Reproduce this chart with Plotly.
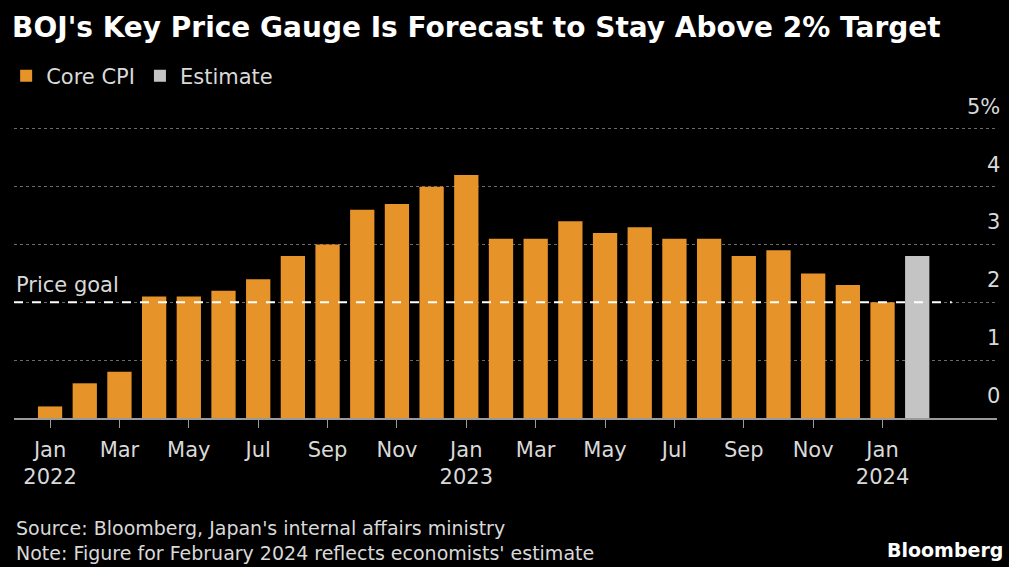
import plotly.graph_objects as go

months = ["Jan 2022","Feb 2022","Mar 2022","Apr 2022","May 2022","Jun 2022","Jul 2022","Aug 2022",
          "Sep 2022","Oct 2022","Nov 2022","Dec 2022","Jan 2023","Feb 2023","Mar 2023","Apr 2023",
          "May 2023","Jun 2023","Jul 2023","Aug 2023","Sep 2023","Oct 2023","Nov 2023","Dec 2023","Jan 2024"]
core_cpi = [0.2,0.6,0.8,2.1,2.1,2.2,2.4,2.8,3.0,3.6,3.7,4.0,4.2,3.1,3.1,3.4,3.2,3.3,3.1,3.1,2.8,2.9,2.5,2.3,2.0]
estimate_month = ["Feb 2024"]
estimate = [2.8]
price_goal = 2.0

x_tick_idx = [0,2,4,6,8,10,12,14,16,18,20,22,24]
x_tick_text = ["Jan<br>2022","Mar","May","Jul","Sep","Nov","Jan<br>2023","Mar","May","Jul","Sep","Nov","Jan<br>2024"]
y_tick_vals = [0,1,2,3,4,5]
y_tick_text = ["0","1","2","3","4","5%"]

ORANGE = "#E6932A"
GREY = "#C4C4C4"
TXT = "#D9D9D9"
FONT = "DejaVu Sans"

x_core = list(range(len(core_cpi)))
x_est = [len(core_cpi) + i for i in range(len(estimate))]

fig = go.Figure()
fig.add_trace(go.Bar(x=x_core, y=core_cpi, name="Core CPI", marker=dict(color=ORANGE, line=dict(width=0)),
                     width=0.7, hovertext=months))
fig.add_trace(go.Bar(x=x_est, y=estimate, name="Estimate", marker=dict(color=GREY, line=dict(width=0)),
                     width=0.7, hovertext=estimate_month))

fig.add_shape(type="line", xref="paper", yref="y", x0=0, x1=0.954, y0=price_goal, y1=price_goal,
              line=dict(color="white", width=2, dash="dash"), layer="above")
fig.add_annotation(xref="paper", yref="y", x=0, y=price_goal, xanchor="left", yanchor="bottom",
                   text="Price goal", showarrow=False, font=dict(family=FONT, size=21, color=TXT), yshift=3)

# y-axis labels placed above their gridlines (Bloomberg style)
for v, t in zip(y_tick_vals, y_tick_text):
    fig.add_annotation(xref="paper", yref="y", x=1.005, y=v, xanchor="right", yanchor="bottom",
                       text=t, showarrow=False, font=dict(family=FONT, size=21, color=TXT), yshift=8)

fig.update_layout(
    width=1009, height=567,
    paper_bgcolor="black", plot_bgcolor="black",
    margin=dict(l=14, r=12, t=97, b=149, autoexpand=False),
    bargap=0.3,
    showlegend=True,
    legend=dict(orientation="h", x=-0.008, xanchor="left", y=0.866, yref="container", yanchor="middle",
                font=dict(family=FONT, size=21, color=TXT), itemwidth=30, tracegroupgap=0,
                bgcolor="rgba(0,0,0,0)"),
    title=dict(text="<b>BOJ's Key Price Gauge Is Forecast to Stay Above 2% Target</b>",
               x=0.012, xanchor="left", xref="container", y=0.952, yanchor="middle", yref="container",
               font=dict(family=FONT, size=28, color="white")),
    font=dict(family=FONT, color=TXT),
)

fig.update_xaxes(range=[-1.04, 27.3], tickmode="array", tickvals=x_tick_idx, ticktext=x_tick_text,
                 showgrid=False, zeroline=False, showline=True, linecolor="#9A9A9A", linewidth=1.5,
                 ticks="outside", ticklen=8, tickcolor="#9A9A9A", tickwidth=1, ticklabelstandoff=4,
                 tickfont=dict(family=FONT, size=21, color=TXT), fixedrange=True, automargin=False)
fig.update_yaxes(range=[0, 5.55], side="right", tickmode="array", tickvals=y_tick_vals,
                 showticklabels=False, showgrid=True, gridcolor="#6A6A6A",
                 griddash="dot", gridwidth=1, automargin=False,
                 zeroline=False, ticks="", fixedrange=True)

fig.add_annotation(xref="paper", yref="paper", x=0, y=-0.303, xanchor="left", yanchor="top", align="left",
                   text="Source: Bloomberg, Japan's internal affairs ministry<br>Note: Figure for February 2024 reflects economists' estimate",
                   showarrow=False, font=dict(family=FONT, size=19, color=TXT))
fig.add_annotation(xref="paper", yref="paper", x=1.008, y=-0.372, xanchor="right", yanchor="top",
                   text="<b>Bloomberg</b>", showarrow=False, font=dict(family=FONT, size=19, color="white"))

fig.write_html("out.html", config={"displayModeBar": False},
               post_script="document.body.style.margin='0';document.body.style.background='black';")
